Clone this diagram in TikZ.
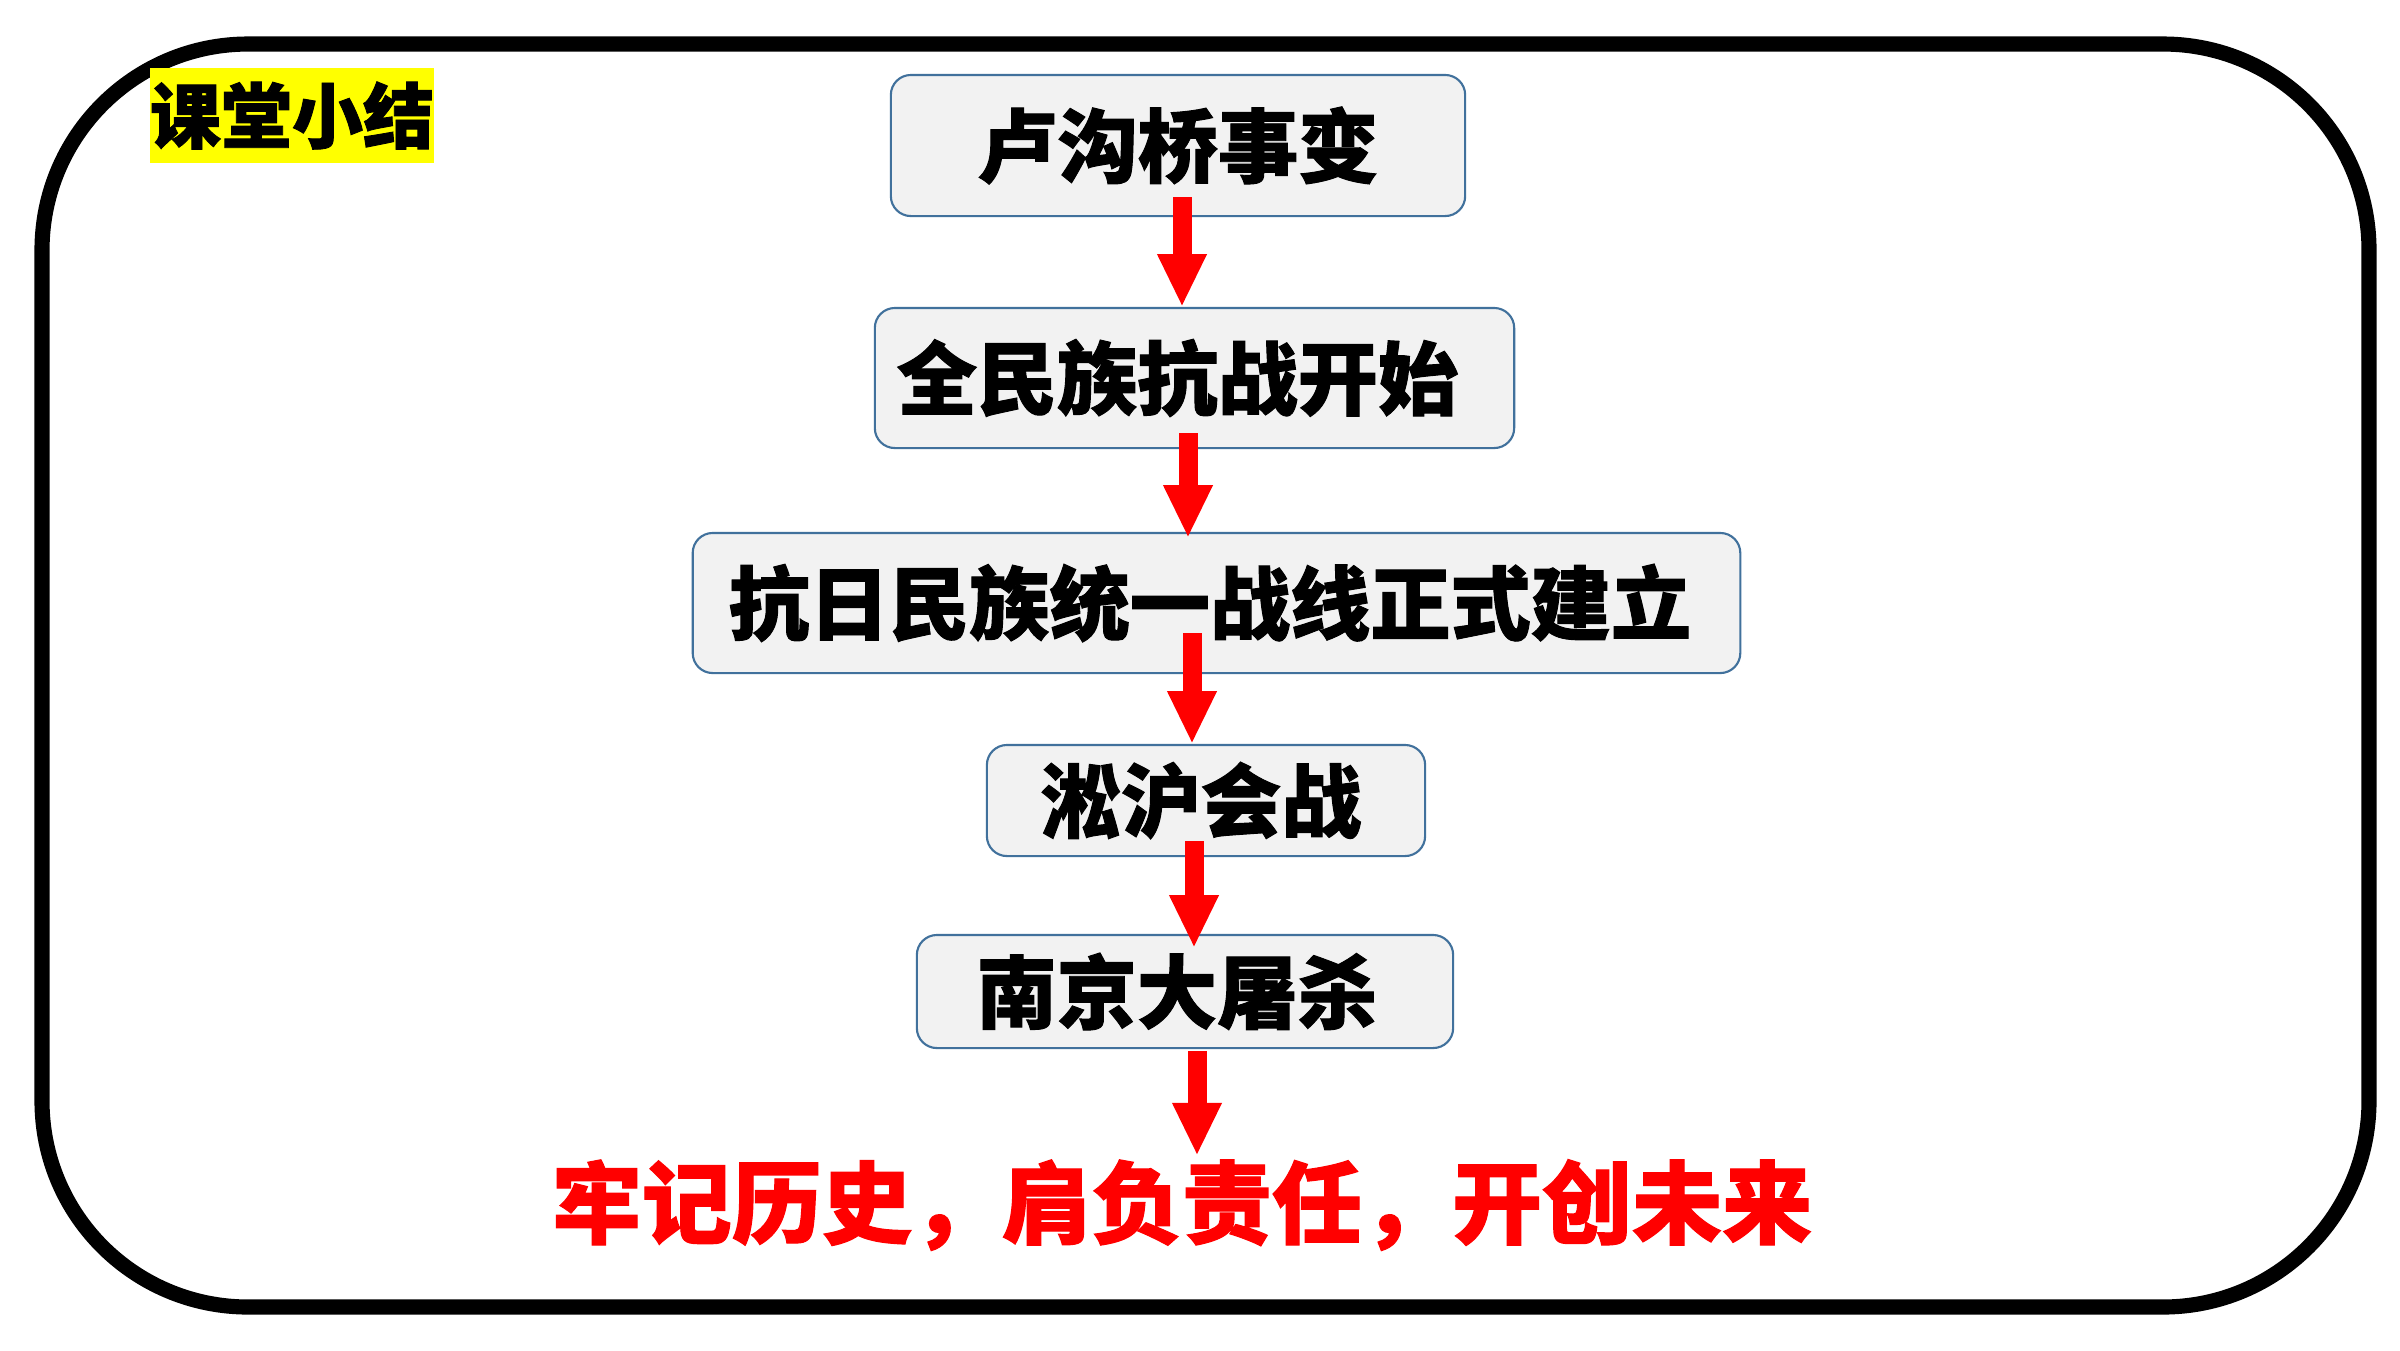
\documentclass[tikz,border=0pt]{standalone}
\usepackage{fontspec}
\newfontfamily\cjk{Noto Sans CJK SC}[BoldFeatures={FakeBold=1.2}]
\usetikzlibrary{arrows.meta,calc}
\definecolor{boxfill}{HTML}{F2F2F2}
\definecolor{boxline}{HTML}{41719C}
\definecolor{pptred}{HTML}{FF0000}
\definecolor{pptyellow}{HTML}{FFFF00}
\tikzset{
  eventbox/.style={draw=boxline, line width=0.6pt, fill=boxfill, rounded corners=0.2cm,
    inner sep=0pt, align=center, font=\cjk\bfseries\fontsize{22.8pt}{26pt}\selectfont},
  redarrow/.style={draw=pptred, line width=5.4pt, -{Triangle[width=13pt,length=15pt]}, pptred},
  frameline/.style={draw=black, line width=4.3pt, rounded corners=2.06cm}
}
\begin{document}
\begin{tikzpicture}[x=0.01cm,y=-0.01cm]
\useasboundingbox (0,0) rectangle (2400,1350);
\fill[white] (0,0) rectangle (2400,1350);
\draw[frameline] (42,44) rectangle (2369,1307);
\node[fill=pptyellow, inner sep=0pt, minimum width=2.8cm, minimum height=0.95cm,
  font=\cjk\bfseries\fontsize{20.2pt}{23pt}\selectfont] (title) at (292,115.5) {课堂小结};
\node[eventbox, minimum width=5.74cm, minimum height=1.41cm] (b1) at (1178,145.5) {卢沟桥事变};
\node[eventbox, minimum width=6.39cm, minimum height=1.40cm] (b2) at (1194.5,378) {全民族抗战开始\hspace*{0.34cm}};
\node[eventbox, minimum width=10.47cm, minimum height=1.40cm] (b3) at (1216.5,603) {抗日民族统一战线正式建立\hspace*{0.13cm}};
\node[eventbox, minimum width=4.38cm, minimum height=1.11cm] (b4) at (1206,800.5) {淞沪会战\hspace*{0.1cm}};
\node[eventbox, minimum width=5.36cm, minimum height=1.13cm] (b5) at (1185,991.5) {南京大屠杀\hspace*{0.16cm}};
\node[inner sep=0pt, text=pptred, font=\cjk\bfseries\fontsize{25.6pt}{29pt}\selectfont] (motto) at (1182,1205) {牢记历史，肩负责任，开创未来};
\draw[redarrow] ([shift={(4,-20)}]b1.south) -- ([shift={(4,0)}]b1.south |- b2.north);
\draw[redarrow] ([shift={(-6.5,-16)}]b2.south) -- ([shift={(-6.5,6)}]b2.south |- b3.north);
\draw[redarrow] ([shift={(-24.5,-41)}]b3.south) -- ([shift={(-24.5,0)}]b3.south |- b4.north);
\draw[redarrow] ([shift={(-12,-16)}]b4.south) -- ([shift={(-12,14)}]b4.south |- b5.north);
\draw[redarrow] ([shift={(12,2)}]b5.south) -- ([shift={(12,-3)}]b5.south |- motto.north);
\end{tikzpicture}
\end{document}
